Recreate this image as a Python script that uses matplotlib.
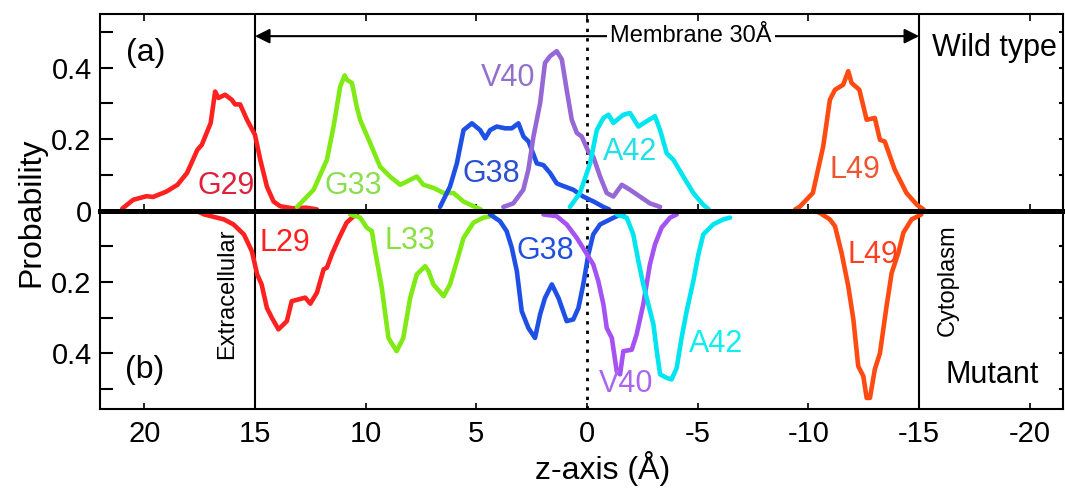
import matplotlib
matplotlib.use("Agg")
import matplotlib.pyplot as plt
from matplotlib.ticker import MultipleLocator, FuncFormatter

plt.rcParams['font.family'] = ['Liberation Sans', 'DejaVu Sans']

# ---------------- data (wild type, top panel) ----------------
g29_z = [21.0, 20.5, 19.9, 19.6, 19.0, 18.5, 18.07, 17.6, 17.4, 17.0, 16.8, 16.65, 16.35, 16.05, 15.9, 15.67,
         15.36, 15.0, 14.76, 14.46, 14.16, 13.86, 13.3, 12.7, 12.2]
g29_p = [0.005, 0.03, 0.04, 0.038, 0.053, 0.072, 0.105, 0.17, 0.184, 0.245, 0.333, 0.315, 0.324, 0.31, 0.297, 0.297,
         0.254, 0.212, 0.142, 0.067, 0.025, 0.012, 0.006, 0.008, 0.003]
g33_z = [13.1, 12.35, 11.75, 11.45, 11.15, 10.95, 10.85, 10.62, 10.4, 10.25, 9.8, 9.35, 8.9, 8.44, 7.69, 7.39,
         6.93, 6.48, 6.03, 5.58, 5.06, 4.8]
g33_p = [0.01, 0.058, 0.142, 0.235, 0.347, 0.378, 0.366, 0.357, 0.29, 0.254, 0.189, 0.123, 0.095, 0.072, 0.095, 0.072,
         0.063, 0.049, 0.049, 0.025, 0.01, 0.003]
g38_z = [6.64, 6.19, 5.88, 5.58, 5.2, 4.83, 4.6, 4.38, 4.08, 3.7, 3.4, 3.1, 2.87, 2.64, 2.27, 1.97, 1.67, 1.37,
         1.22, 0.62, 0.32, 0.17, -0.3, -0.74, -1.0]
g38_p = [0.01, 0.067, 0.132, 0.225, 0.244, 0.225, 0.202, 0.225, 0.235, 0.23, 0.23, 0.244, 0.207, 0.193, 0.132, 0.127,
         0.105, 0.076, 0.072, 0.058, 0.045, 0.039, 0.025, 0.01, 0.003]
v40_z = [3.78, 3.33, 2.88, 2.65, 2.42, 2.12, 1.9, 1.67, 1.37, 1.14, 0.92, 0.69, 0.46, 0.24, -0.06, -0.28, -0.59,
         -0.89, -1.19, -1.57, -1.94, -2.39, -2.84, -3.3]
v40_p = [0.01, 0.02, 0.058, 0.114, 0.207, 0.3, 0.413, 0.432, 0.446, 0.423, 0.338, 0.254, 0.217, 0.207, 0.165, 0.151,
         0.095, 0.049, 0.039, 0.072, 0.058, 0.039, 0.02, 0.01]
a42_z = [0.77, 0.32, -0.14, -0.44, -0.74, -0.97, -1.19, -1.64, -1.94, -2.32, -2.7, -3.07, -3.3, -3.6, -3.9, -4.35,
         -4.8, -5.25, -5.5]
a42_p = [0.01, 0.049, 0.132, 0.225, 0.259, 0.268, 0.245, 0.268, 0.273, 0.235, 0.25, 0.264, 0.225, 0.16, 0.142, 0.095,
         0.049, 0.016, 0.003]
l49_z = [-9.4, -9.6, -10.2, -10.67, -10.97, -11.2, -11.57, -11.8, -11.95, -12.3, -12.63, -13.0, -13.23, -13.45,
         -13.9, -14.43, -14.9, -15.2]
l49_p = [0.003, 0.01, 0.049, 0.18, 0.31, 0.338, 0.352, 0.39, 0.357, 0.338, 0.254, 0.259, 0.198, 0.193,
         0.114, 0.049, 0.016, 0.003]

# ---------------- data (mutant, bottom panel) ----------------
l29m_z = [17.6, 17.3, 16.4, 15.97, 15.5, 15.14, 14.9, 14.7, 14.46, 14.24, 13.94, 13.56, 13.34, 13.03, 12.73, 12.5,
          12.2, 11.9, 11.75, 11.53, 11.2, 10.86, 10.54, 10.3]
l29m_p = [0.002, 0.011, 0.025, 0.039, 0.067, 0.114, 0.179, 0.207, 0.273, 0.3, 0.333, 0.31, 0.254, 0.249, 0.244, 0.261,
          0.23, 0.165, 0.16, 0.123, 0.077, 0.034, 0.016, 0.003]
l33m_z = [10.7, 10.25, 9.95, 9.72, 9.57, 9.27, 8.97, 8.6, 8.3, 7.99, 7.69, 7.31, 7.16, 6.94, 6.48, 6.19, 5.88, 5.58,
          5.13, 4.68, 4.38, 4.2]
l33m_p = [0.011, 0.02, 0.048, 0.058, 0.114, 0.217, 0.357, 0.394, 0.357, 0.245, 0.179, 0.156, 0.17, 0.207, 0.24, 0.207,
          0.142, 0.077, 0.034, 0.02, 0.016, 0.005]
g38m_z = [4.38, 3.93, 3.63, 3.4, 3.17, 2.95, 2.65, 2.35, 2.12, 1.9, 1.59, 1.29, 0.92, 0.62, 0.39, 0.17, -0.06, -0.28,
          -0.59, -1.04, -1.34, -1.7]
g38m_p = [0.011, 0.03, 0.058, 0.104, 0.17, 0.282, 0.329, 0.357, 0.291, 0.245, 0.207, 0.245, 0.31, 0.305, 0.273, 0.207,
          0.123, 0.067, 0.039, 0.025, 0.016, 0.005]
v40m_z = [1.97, 1.37, 0.92, 0.46, 0.09, -0.28, -0.51, -0.74, -0.89, -1.12, -1.34, -1.49, -1.64, -2.02, -2.24, -2.54,
          -2.84, -3.07, -3.37, -3.75, -4.05]
v40m_p = [0.011, 0.016, 0.039, 0.077, 0.114, 0.151, 0.198, 0.263, 0.329, 0.357, 0.45, 0.459, 0.394, 0.39, 0.347, 0.263,
          0.151, 0.095, 0.048, 0.02, 0.011]
a42m_z = [-1.34, -1.79, -2.09, -2.32, -2.54, -2.77, -3.0, -3.15, -3.3, -3.6, -3.82, -4.05, -4.27, -4.5, -4.8, -5.03,
          -5.25, -5.7, -6.15, -6.46]
a42m_p = [0.011, 0.02, 0.067, 0.142, 0.207, 0.263, 0.319, 0.394, 0.459, 0.469, 0.473, 0.441, 0.357, 0.282, 0.198, 0.123,
          0.067, 0.039, 0.025, 0.02]
l49m_z = [-10.3, -10.5, -10.97, -11.2, -11.5, -11.8, -12.03, -12.25, -12.48, -12.63, -12.78, -13.0, -13.23, -13.53,
          -13.76, -14.06, -14.29, -14.66, -15.1]
l49m_p = [0.002, 0.006, 0.025, 0.044, 0.119, 0.212, 0.305, 0.436, 0.464, 0.525, 0.525, 0.445, 0.4, 0.268,
          0.175, 0.119, 0.062, 0.025, 0.011]

top_labels = ["G29", "G33", "G38", "V40", "A42", "L49"]
bottom_labels = ["L29", "L33", "G38", "V40", "A42", "L49"]
x_ticks = [20, 15, 10, 5, 0, -5, -10, -15, -20]

# ---------------- figure ----------------
W, H = 1065, 493
fig = plt.figure(figsize=(W / 100, H / 100), dpi=100)
L, R = 100 / W, 1063 / W
ax_t = fig.add_axes([L, 1 - 210.5 / H, R - L, (210.5 - 14) / H])
ax_b = fig.add_axes([L, 1 - 409 / H, R - L, (409 - 210.5) / H], sharex=ax_t)
ax_b.patch.set_visible(False)

XL = (22.0, -21.5)
ax_t.set_xlim(*XL)
ax_t.set_ylim(0, 0.55)
ax_b.set_ylim(0.556, 0)

RED = '#ff2020'; GREEN = '#80ea14'; BLUE = '#1f50e6'; PURP_T = '#9668d6'; PURP_B = '#a552f2'
CYAN = '#00e6f0'; ORANGE = '#ff4a12'
lw = 3.3
top_series = [(g29_z, g29_p, RED), (g33_z, g33_p, GREEN), (g38_z, g38_p, BLUE),
              (v40_z, v40_p, PURP_T), (a42_z, a42_p, CYAN), (l49_z, l49_p, ORANGE)]
bot_series = [(l29m_z, l29m_p, RED), (l33m_z, l33m_p, GREEN), (g38m_z, g38m_p, BLUE),
              (v40m_z, v40m_p, PURP_B), (a42m_z, a42m_p, CYAN), (l49m_z, l49m_p, ORANGE)]
for z, p, c in top_series:
    ax_t.plot(z, p, color=c, lw=lw, solid_joinstyle='round', solid_capstyle='round', zorder=3)
for z, p, c in bot_series:
    ax_b.plot(z, p, color=c, lw=lw, solid_joinstyle='round', solid_capstyle='round', zorder=3)

# boundary lines
for ax in (ax_t, ax_b):
    ax.axvline(15, color='black', lw=1.5, zorder=2)
    ax.axvline(-15, color='black', lw=1.5, zorder=2)
    ax.axvline(0, color='black', lw=2.0, ls=(0, (1.2, 2.2)), zorder=2)

# spines
for ax in (ax_t, ax_b):
    for s in ax.spines.values():
        s.set_linewidth(1.5)
ax_b.spines['top'].set_visible(False)
ax_t.spines['bottom'].set_visible(False)
# thick zero baseline shared by both panels
ax_b.axhline(0, color='black', lw=3.6, zorder=6, clip_on=False)

# ticks
TICKFONT = 21
ax_b.set_xticks(x_ticks)
ax_b.set_xticklabels([str(t) for t in x_ticks])
ax_t.tick_params(axis='x', which='both', direction='in', top=True, bottom=True, labelbottom=False,
                 length=5, width=1.2)
ax_b.tick_params(axis='x', which='both', direction='in', top=False, bottom=True, labelsize=TICKFONT,
                 length=4, width=1.2, pad=8)
for ax in (ax_t, ax_b):
    ax.yaxis.set_major_locator(MultipleLocator(0.1))
    ax.tick_params(axis='y', direction='in', left=True, right=True, length=9, width=1.5,
                   labelsize=TICKFONT, pad=6)

def fmt_top(v, pos):
    v = round(v, 2)
    if abs(v) < 1e-9:
        return "0"
    if abs(round(v / 0.2) * 0.2 - v) < 1e-6:
        return f"{v:.1f}"
    return ""

def fmt_bot(v, pos):
    v = round(v, 2)
    if abs(v) < 1e-9:
        return ""
    if abs(round(v / 0.2) * 0.2 - v) < 1e-6:
        return f"{v:.1f}"
    return ""

ax_t.yaxis.set_major_formatter(FuncFormatter(fmt_top))
ax_b.yaxis.set_major_formatter(FuncFormatter(fmt_bot))
for ax in (ax_t, ax_b):
    for t in ax.yaxis.get_major_ticks():
        t.tick2line.set_markersize(3)

# residue labels
LABFONT = 22
top_lab_pos = [(16.3, 0.069, '#e0203a'), (10.56, 0.069, '#8ade50'), (4.33, 0.102, '#2a4fd0'),
               (3.57, 0.372, '#9370cc'), (-1.94, 0.165, '#20e0e8'), (-12.1, 0.112, '#ee5530')]
bot_lab_pos = [(13.63, 0.092, '#ff2020'), (8.0, 0.085, '#8ae040'), (1.9, 0.113, '#2050e0'),
               (-1.76, 0.487, '#aa66ee'), (-5.82, 0.375, '#10eef0'), (-12.9, 0.125, '#ff4020')]
for txt, (x, y, c) in zip(top_labels, top_lab_pos):
    ax_t.text(x, y, txt, color=c, fontsize=LABFONT, ha='center', va='center', zorder=4)
for txt, (x, y, c) in zip(bottom_labels, bot_lab_pos):
    ax_b.text(x, y, txt, color=c, fontsize=LABFONT, ha='center', va='center', zorder=4)

# membrane arrow
ax_t.annotate('', xy=(-15, 0.488), xytext=(15, 0.488),
              arrowprops=dict(arrowstyle='<|-|>', color='black', lw=1.5, mutation_scale=22,
                              shrinkA=0, shrinkB=0))
ax_t.text(-4.7, 0.488, 'Membrane 30Å', fontsize=17, ha='center', va='center',
          bbox=dict(facecolor='white', edgecolor='none', pad=2.5), zorder=6)

ax_t.text(19.95, 0.44, '(a)', fontsize=23, ha='center', va='center')
ax_b.text(20.0, 0.448, '(b)', fontsize=23, ha='center', va='center')
ax_t.text(-18.4, 0.455, 'Wild type', fontsize=22, ha='center', va='center')
ax_b.text(-18.3, 0.46, 'Mutant', fontsize=22, ha='center', va='center')
ax_b.text(16.25, 0.233, 'Extracellular', fontsize=17, rotation=90, ha='center', va='center')
ax_b.text(-16.3, 0.196, 'Cytoplasm', fontsize=17, rotation=90, ha='center', va='center')

fig.text(31 / W, 1 - 212 / H, 'Probability', fontsize=23, rotation=90, ha='center', va='center')
fig.text(603 / W, 1 - 468 / H, 'z-axis (Å)', fontsize=23, ha='center', va='center')

fig.savefig('out.png', dpi=100)
